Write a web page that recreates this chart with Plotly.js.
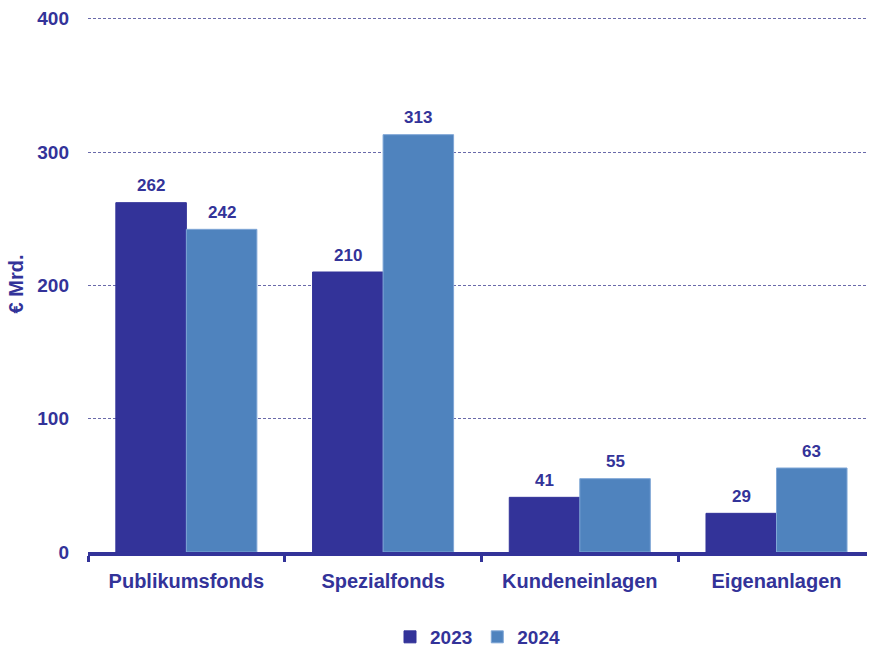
<!DOCTYPE html>
<html>
<head>
<meta charset="utf-8">
<script src="https://cdn.plot.ly/plotly-3.0.1.min.js"></script>
<style>html,body{margin:0;padding:0;background:#fff;}#chart{width:870px;height:648px;}</style>
</head>
<body>
<div id="chart"></div>
<script>
const categories = ["Publikumsfonds", "Spezialfonds", "Kundeneinlagen", "Eigenanlagen"];
const values2023 = [262, 210, 41, 29];
const values2024 = [242, 313, 55, 63];
const seriesNames = ["2023", "2024"];
const yTicks = [0, 100, 200, 300, 400];

const textColor = "#333399";
const fontFam = "Arial, 'Liberation Sans', sans-serif";
const labelFont = {family: fontFam, size: 17, color: textColor, weight: "bold"};

function trace(name, vals, color, edge) {
  return {
    type: "bar",
    name: name,
    x: categories,
    y: vals,
    marker: {color: color, line: {width: 1, color: edge}},
    hoverinfo: "none"
  };
}

const data = [
  trace(seriesNames[0], values2023, "#333399", "#333399"),
  trace(seriesNames[1], values2024, "#4F83BE", "#7FA6D6")
];

// value labels above each bar (offset to each bar of the group)
const annotations = [];
[values2023, values2024].forEach((vals, i) => {
  vals.forEach((v, j) => {
    annotations.push({
      x: categories[j], y: v, xref: "x", yref: "y",
      text: String(v), showarrow: false,
      xshift: i === 0 ? -35.3 : 35.3, yshift: 17,
      font: labelFont
    });
  });
});

const layout = {
  width: 870, height: 648,
  margin: {l: 88, r: 3, t: 16, b: 96, autoexpand: false},
  paper_bgcolor: "#fff", plot_bgcolor: "#fff",
  barmode: "group",
  bargap: 0.283,
  bargroupgap: 0,
  font: {family: fontFam, color: textColor, weight: "bold"},
  showlegend: true,
  annotations: annotations,
  legend: {
    orientation: "h", x: 0.5, xanchor: "center",
    yref: "container", y: 0.017, yanchor: "middle",
    font: {family: fontFam, size: 19, color: textColor, weight: "bold"},
    itemwidth: 30, traceorder: "normal"
  },
  xaxis: {
    type: "category",
    range: [-0.5, 3.46],
    showline: true, linecolor: "#333399", linewidth: 4,
    ticks: "outside", tickson: "boundaries", ticklen: 6, tickwidth: 3, tickcolor: "#333399",
    tickfont: {family: fontFam, size: 20, color: textColor, weight: "bold"},
    ticklabelstandoff: 8,
    showgrid: false, zeroline: false, fixedrange: true
  },
  yaxis: {
    range: [0, 402],
    tickvals: yTicks,
    ticktext: yTicks.map(String),
    tickfont: {family: fontFam, size: 19, color: textColor, weight: "bold"},
    ticklabelstandoff: 18,
    showgrid: true, gridcolor: "#6A6AAA", gridwidth: 1, griddash: "3px,2px",
    zeroline: false, showline: false, ticks: "",
    title: {text: "€ Mrd.", font: {family: fontFam, size: 20, color: textColor, weight: "bold"}, standoff: 8},
    fixedrange: true
  }
};

Plotly.newPlot("chart", data, layout, {displayModeBar: false, staticPlot: true});
</script>
</body>
</html>
